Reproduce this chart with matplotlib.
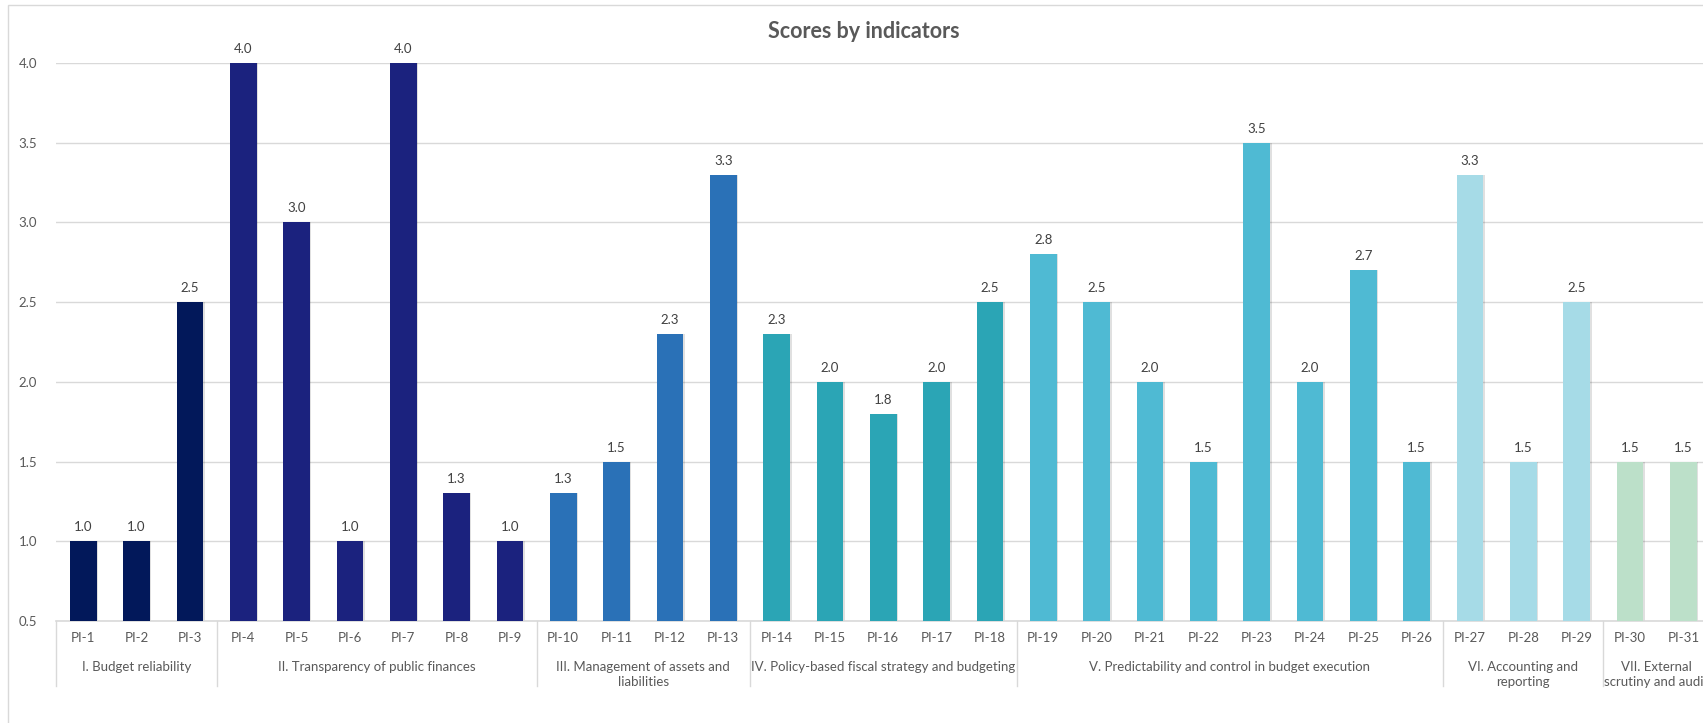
import matplotlib.pyplot as plt
from matplotlib.patches import Rectangle
from matplotlib.lines import Line2D

plt.rcParams['font.family'] = ['Lato', 'DejaVu Sans']

# Indicator scores (labels show one decimal)
indicators = ["PI-%d" % i for i in range(1, 32)]
scores = [1.0, 1.0, 2.5,
          4.0, 3.0, 1.0, 4.0, 1.3, 1.0,
          1.3, 1.5, 2.3, 3.3,
          2.3, 2.0, 1.8, 2.0, 2.5,
          2.8, 2.5, 2.0, 1.5, 3.5, 2.0, 2.7, 1.5,
          3.3, 1.5, 2.5,
          1.5, 1.5]

# Pillars: name, number of indicators, colour
pillar_names = ["I. Budget reliability",
                "II. Transparency of public finances",
                "III. Management of assets and\nliabilities",
                "IV. Policy-based fiscal strategy and budgeting",
                "V. Predictability and control in budget execution",
                "VI. Accounting and\nreporting",
                "VII. External\nscrutiny and audit"]
pillar_sizes = [3, 6, 4, 5, 8, 3, 2]
pillar_colors = ["#02185A", "#1B227E", "#2A71B7", "#2BA5B5",
                 "#4FBAD3", "#A6DBE7", "#BCE0C9"]

colors = []
for c, n in zip(pillar_colors, pillar_sizes):
    colors += [c] * n

fig = plt.figure(figsize=(17.03, 7.23), dpi=100)

# outer chart border
fig.patches.append(Rectangle((8 / 1703, -0.1), 2, 1.1 - 5 / 723, transform=fig.transFigure,
                             fill=False, edgecolor="#D9D9D9", linewidth=1))

ax = fig.add_axes([56.5 / 1703, 1 - 621 / 723, (1710 - 56.5) / 1703, (621 - 63) / 723])

x = list(range(len(indicators)))
# soft shadow to the right of each bar
ax.bar([i + 0.03 for i in x], [s - 0.5 for s in scores], width=0.5, bottom=0.5,
       color="#000000", alpha=0.12, zorder=2)
ax.bar(x, [s - 0.5 for s in scores], width=0.5, bottom=0.5, color=colors, zorder=3)

for i, s in zip(x, scores):
    ax.text(i, s + 0.05, "%.1f" % s, ha="center", va="bottom", fontsize=9.5, color="#404040")

ax.set_xlim(-0.5, len(indicators) - 0.5)
ax.set_ylim(0.5, 4.0)
ax.set_yticks([0.5, 1.0, 1.5, 2.0, 2.5, 3.0, 3.5, 4.0])
ax.set_yticklabels(["%.1f" % v for v in ax.get_yticks()], fontsize=9.5, color="#595959")
ax.yaxis.grid(True, color="#D9D9D9", linewidth=1, zorder=0)
ax.set_axisbelow(True)
ax.tick_params(axis="y", length=0, pad=14)
ax.tick_params(axis="x", length=0, pad=8)
ax.set_xticks(x)
ax.set_xticklabels(indicators, fontsize=9.5, color="#595959")
for side in ["top", "right", "left"]:
    ax.spines[side].set_visible(False)
ax.spines["bottom"].set_color("#D9D9D9")
ax.spines["bottom"].set_linewidth(1.2)

# pillar labels and separators under the axis
trans = ax.get_xaxis_transform()
start = 0
bounds = [-0.5]
for name, n in zip(pillar_names, pillar_sizes):
    mid = start + (n - 1) / 2
    ax.text(mid, -0.072, name, transform=trans, ha="center", va="top",
            fontsize=9.5, color="#595959", linespacing=1.25, clip_on=False)
    start += n
    bounds.append(start - 0.5)
for b in bounds:
    ax.add_line(Line2D([b, b], [0, -0.117], transform=trans, color="#D9D9D9",
                       linewidth=1, clip_on=False))

fig.text(864 / 1703, 1 - 32 / 723, "Scores by indicators", ha="center", va="center",
         fontsize=15.5, fontweight="bold", color="#595959")

fig.savefig("out.png", dpi=100)
